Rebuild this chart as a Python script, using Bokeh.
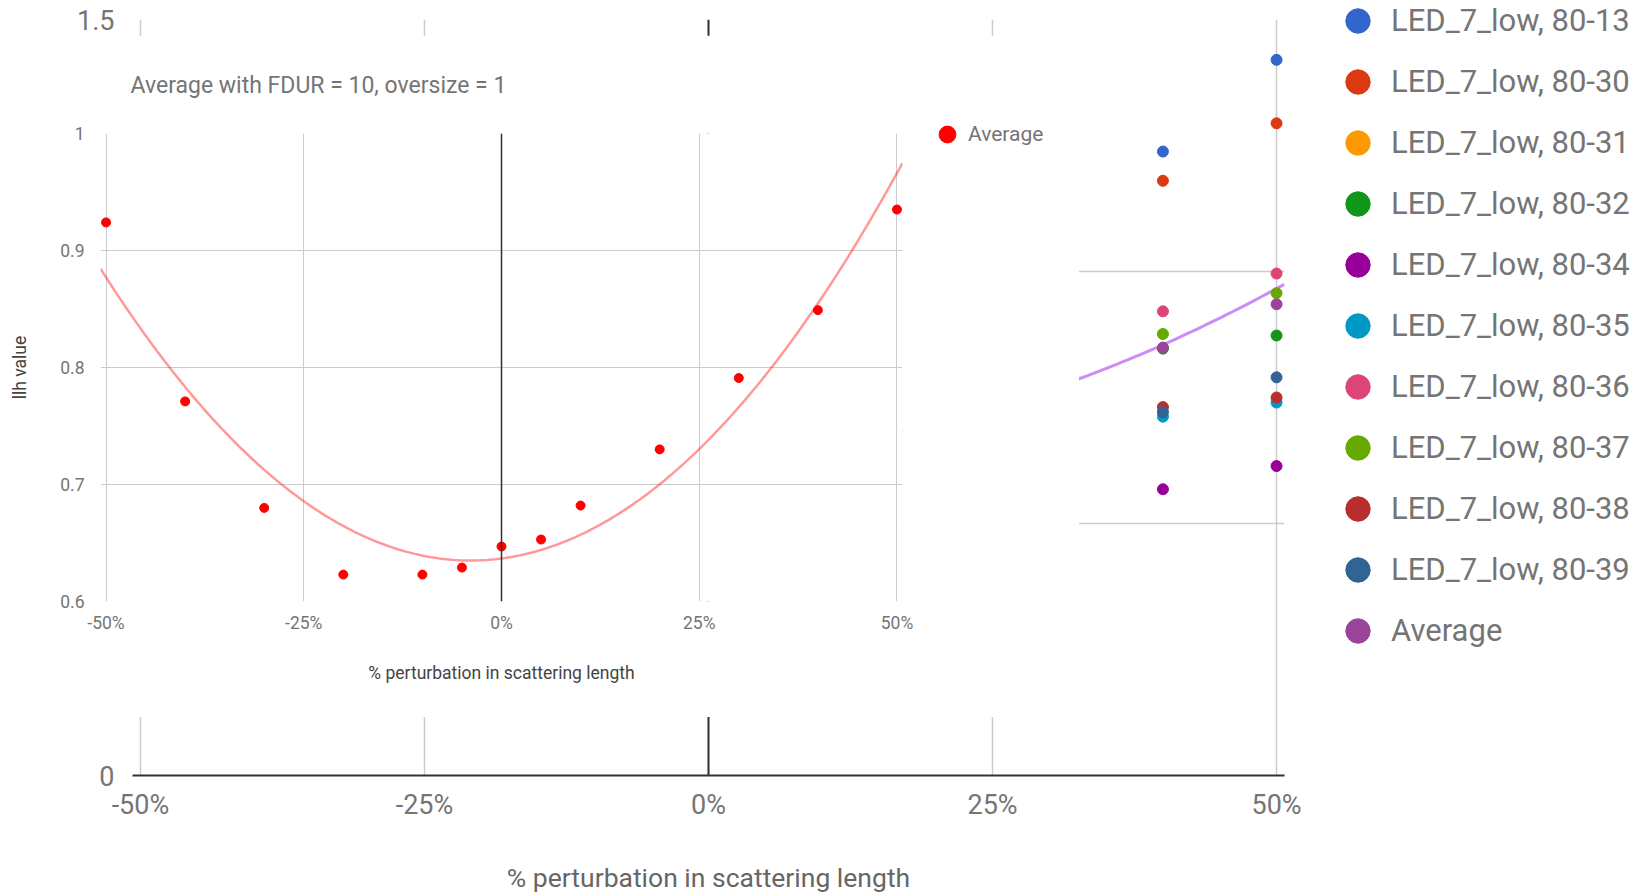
import numpy as np
from bokeh.plotting import figure
from bokeh.models import (FixedTicker, NumeralTickFormatter, Legend, LegendItem,
                          Span, GridBox, ColumnDataSource)
from bokeh.embed import file_html
from bokeh.resources import INLINE

# ---------------- data ----------------
# inset: average llh value vs % perturbation in scattering length
perturbation = [-0.5, -0.4, -0.3, -0.2, -0.1, -0.05, 0.0, 0.05, 0.1, 0.2, 0.3, 0.4, 0.5]
average = [0.924, 0.771, 0.680, 0.623, 0.623, 0.629, 0.647, 0.653, 0.682, 0.730, 0.791, 0.849, 0.935]

# background chart: points visible beside the inset (x = 40 %, 50 %)
bg_x = [0.4, 0.5]
led_80_13 = [1.238, 1.420]
led_80_30 = [1.180, 1.294]
led_80_31 = []            # not visible in the picture
led_80_32 = [0.847, 0.873]
led_80_34 = [0.568, 0.614]
led_80_35 = [0.712, 0.740]
led_80_36 = [0.921, 0.996]
led_80_37 = [0.876, 0.957]
led_80_38 = [0.731, 0.750]
led_80_39 = [0.721, 0.790]

series_names = ["LED_7_low, 80-13", "LED_7_low, 80-30", "LED_7_low, 80-31",
                "LED_7_low, 80-32", "LED_7_low, 80-34", "LED_7_low, 80-35",
                "LED_7_low, 80-36", "LED_7_low, 80-37", "LED_7_low, 80-38",
                "LED_7_low, 80-39"]
series_values = [led_80_13, led_80_30, led_80_31, led_80_32, led_80_34,
                 led_80_35, led_80_36, led_80_37, led_80_38, led_80_39]
series_colors = ["#3366cc", "#dc3912", "#ff9900", "#109618", "#990099",
                 "#0099c6", "#dd4477", "#66aa00", "#b82e2e", "#316395"]
avg_color = "#994499"

x_ticks = [-0.5, -0.25, 0.0, 0.25, 0.5]
FONT = "Roboto"
LABEL = "#757575"

# polynomial (degree 2) trendline of the average, as the chart's trendline
coef = np.polyfit(perturbation, average, 2)
XR = (-0.507, 0.507)
trend_x = np.linspace(XR[0], XR[1], 200)
trend_y = np.polyval(coef, trend_x)

# ---------------- background chart ----------------
bg = figure(width=1650, height=895, x_range=XR, y_range=(0, 1.5),
            output_backend="svg", toolbar_location=None,
            min_border_left=132, min_border_right=366,
            min_border_top=19, min_border_bottom=120)
bg.frame_align = False
bg.outline_line_color = None
bg.background_fill_color = "white"

bg.xaxis.ticker = FixedTicker(ticks=x_ticks)
bg.xaxis.formatter = NumeralTickFormatter(format="0%")
bg.xaxis.major_label_text_font = FONT
bg.xaxis.major_label_text_font_size = "27px"
bg.xaxis.major_label_text_color = LABEL
bg.xaxis.major_label_standoff = 7
bg.xaxis.axis_line_color = "#333333"
bg.xaxis.axis_line_width = 2
bg.xaxis.major_tick_line_color = None
bg.xaxis.minor_tick_line_color = None
bg.xaxis.axis_label = "% perturbation in scattering length"
bg.xaxis.axis_label_text_font = FONT
bg.xaxis.axis_label_text_font_size = "26.5px"
bg.xaxis.axis_label_text_font_style = "normal"
bg.xaxis.axis_label_text_color = "#666666"
bg.xaxis.axis_label_standoff = 38

bg.yaxis.ticker = FixedTicker(ticks=[0, 1.5])
bg.yaxis.major_label_overrides = {0: "0"}
bg.yaxis.major_label_text_font = FONT
bg.yaxis.major_label_text_font_size = "27px"
bg.yaxis.major_label_text_color = LABEL
bg.yaxis.major_label_standoff = 12
bg.yaxis.axis_line_color = None
bg.yaxis.major_tick_line_color = None
bg.yaxis.minor_tick_line_color = None

bg.xgrid.ticker = FixedTicker(ticks=x_ticks)
bg.xgrid.grid_line_color = "#cccccc"
bg.xgrid.grid_line_width = 1.5
bg.ygrid.ticker = FixedTicker(ticks=[0.5, 1.0, 1.5])
bg.ygrid.grid_line_color = "#cccccc"
bg.ygrid.grid_line_width = 1.5
bg.add_layout(Span(location=0, dimension="height", line_color="#333333", line_width=2))

bg.line(trend_x, trend_y, line_color="#cc8cf8", line_width=3)

for vals, col in zip(series_values, series_colors):
    bg.scatter(bg_x[:len(vals)], vals, size=11, fill_color=col, line_color=col)
bg.scatter(perturbation, average, size=11, fill_color=avg_color, line_color=avg_color)

# ---------------- inset chart ----------------
inset = figure(width=1079, height=682, x_range=XR, y_range=(0.6, 1.0),
               output_backend="svg", toolbar_location=None,
               min_border_left=100, min_border_right=177,
               min_border_top=97, min_border_bottom=116)
inset.frame_align = False
inset.margin = (35, 0, 0, 0)
inset.outline_line_color = None
inset.title.text = "Average with FDUR = 10,  oversize = 1"
inset.title.text_font = FONT
inset.title.text_font_size = "23px"
inset.title.text_font_style = "normal"
inset.title.text_color = LABEL
inset.title.align = "left"
inset.title.offset = 30
inset.title.standoff = 69

inset.xaxis.ticker = FixedTicker(ticks=x_ticks)
inset.xaxis.formatter = NumeralTickFormatter(format="0%")
inset.xaxis.major_label_text_font = FONT
inset.xaxis.major_label_text_font_size = "17.5px"
inset.xaxis.major_label_text_color = LABEL
inset.xaxis.major_label_standoff = 5
inset.xaxis.axis_line_color = None
inset.xaxis.major_tick_line_color = None
inset.xaxis.minor_tick_line_color = None
inset.xaxis.axis_label = "% perturbation in scattering length"
inset.xaxis.axis_label_text_font = FONT
inset.xaxis.axis_label_text_font_size = "17.5px"
inset.xaxis.axis_label_text_font_style = "normal"
inset.xaxis.axis_label_text_color = "#444444"
inset.xaxis.axis_label_standoff = 27

inset.yaxis.ticker = FixedTicker(ticks=[0.6, 0.7, 0.8, 0.9, 1.0])
inset.yaxis.major_label_overrides = {1: "1"}
inset.yaxis.major_label_text_font = FONT
inset.yaxis.major_label_text_font_size = "17.5px"
inset.yaxis.major_label_text_color = LABEL
inset.yaxis.major_label_standoff = 10
inset.yaxis.axis_line_color = None
inset.yaxis.major_tick_line_color = None
inset.yaxis.minor_tick_line_color = None
inset.yaxis.axis_label = "llh value"
inset.yaxis.axis_label_text_font = FONT
inset.yaxis.axis_label_text_font_size = "17.5px"
inset.yaxis.axis_label_text_font_style = "normal"
inset.yaxis.axis_label_text_color = "#444444"
inset.yaxis.axis_label_standoff = 27

inset.xgrid.ticker = FixedTicker(ticks=x_ticks)
inset.xgrid.grid_line_color = "#cccccc"
inset.ygrid.ticker = FixedTicker(ticks=[0.6, 0.7, 0.8, 0.9, 1.0])
inset.ygrid.grid_line_color = "#cccccc"
inset.add_layout(Span(location=0, dimension="height", line_color="#333333", line_width=1.5))

inset.line(trend_x, trend_y, line_color="red", line_alpha=0.4, line_width=2.5)
inset.scatter(perturbation, average, size=9, fill_color="red", line_color="red")

# ---------------- legend layer (transparent, on top) ----------------
leg = figure(width=1650, height=895, x_range=(0, 1), y_range=(0, 1),
             x_axis_type=None, y_axis_type=None,
             output_backend="svg", toolbar_location=None,
             min_border=0)
leg.frame_align = False
leg.outline_line_color = None
leg.background_fill_color = None
leg.border_fill_color = None
leg.xgrid.visible = False
leg.ygrid.visible = False

# hidden renderer holding the legend table (one row per series)
legend_names = series_names + ["Average"]
legend_colors = series_colors + [avg_color]
legend_src = ColumnDataSource(dict(order=list(range(len(legend_names))),
                                   base=[0] * len(legend_names),
                                   name=legend_names, color=legend_colors))
r_tab = leg.scatter(x="order", y="base", source=legend_src, size=11,
                    fill_color="color", line_color="color", visible=False)
bg_items = [LegendItem(label=n, renderers=[r_tab], index=i)
            for i, n in enumerate(legend_names)]

bg_legend = Legend(items=bg_items, location=(1324, 234), orientation="vertical",
                   glyph_width=67, glyph_height=61, label_height=61, spacing=0,
                   label_standoff=0, padding=0, margin=0,
                   border_line_color=None, background_fill_alpha=0,
                   inactive_fill_alpha=0,
                   label_text_font=FONT, label_text_font_size="31px",
                   label_text_color=LABEL)
leg.add_layout(bg_legend)

# hidden copy of the inset average series, for the inset's legend entry
r_in = leg.scatter(perturbation, average, size=9, fill_color="red",
                   line_color="red", visible=False)
in_legend = Legend(items=[LegendItem(label="Average", renderers=[r_in], index=0)],
                   location=(926, 740), glyph_width=42, glyph_height=42,
                   label_height=42, label_standoff=0, padding=0, margin=0,
                   border_line_color=None, background_fill_alpha=0,
                   inactive_fill_alpha=0,
                   label_text_font=FONT, label_text_font_size="21px",
                   label_text_color=LABEL)
leg.add_layout(in_legend)

root = GridBox(children=[(bg, 0, 0), (inset, 0, 0), (leg, 0, 0)])

open("out.html", "w").write(file_html(root, INLINE))
